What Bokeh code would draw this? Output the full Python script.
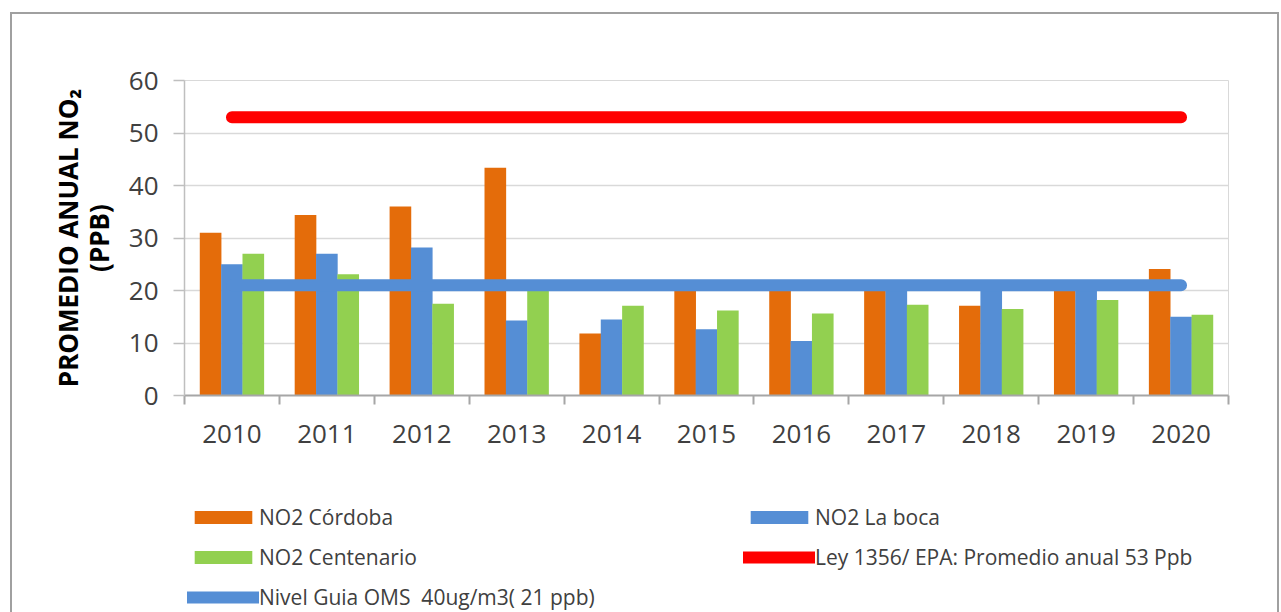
import numpy as np
from bokeh.plotting import figure
from bokeh.layouts import column
from bokeh.models import (Range1d, LinearAxis, FixedTicker, Legend, LegendItem,
                          ColumnDataSource, Grid)
from bokeh.transform import dodge
from bokeh.embed import file_html
from bokeh.resources import INLINE

# ---------------- data ----------------
years = ["2010", "2011", "2012", "2013", "2014", "2015", "2016", "2017", "2018", "2019", "2020"]
no2_cordoba = [31.0, 34.4, 36.0, 43.4, 11.8, 21.0, 21.0, 21.0, 17.1, 21.0, 24.1]
no2_la_boca = [25.0, 27.0, 28.2, 14.3, 14.5, 12.6, 10.4, 21.0, 21.0, 21.0, 15.0]
no2_centenario = [27.0, 23.1, 17.5, 21.0, 17.1, 16.2, 15.6, 17.3, 16.5, 18.2, 15.4]
ley_epa = [53, 53, 53, 53, 53, 53, 53, 53, 53, 53, 53]
nivel_oms = [21, 21, 21, 21, 21, 21, 21, 21, 21, 21, 21]
y_ticks = [0, 10, 20, 30, 40, 50, 60]

labels = ["NO2 Córdoba", "NO2 La boca", "NO2 Centenario",
          "Ley 1356/ EPA: Promedio anual 53 Ppb",
          "Nivel Guia OMS  40ug/m3( 21 ppb)"]

ORANGE = "#E46C0A"
BLUE = "#558ED5"
GREEN = "#92D050"
RED = "#FF0000"
TXT = "#404040"
FONT = "Open Sans"
FRAME_CSS = ("position: absolute; left: 10px; right: 2px; top: {top}px; bottom: 0px; "
             "border: 2px solid #a0a0a0; {extra} pointer-events: none; z-index: 100;")

idx = list(range(len(years)))
src = ColumnDataSource(dict(x=idx, cordoba=no2_cordoba, laboca=no2_la_boca,
                            centenario=no2_centenario, ley=ley_epa, oms=nivel_oms))


def add_series(fig):
    bw = 0.228
    rc = fig.vbar(x=dodge("x", -0.225, range=fig.x_range), top="cordoba", width=bw,
                  source=src, fill_color=ORANGE, line_color=None)
    rb = fig.vbar(x=dodge("x", 0.0, range=fig.x_range), top="laboca", width=bw,
                  source=src, fill_color=BLUE, line_color=None)
    rg = fig.vbar(x=dodge("x", 0.225, range=fig.x_range), top="centenario", width=bw,
                  source=src, fill_color=GREEN, line_color=None)
    ro = fig.line("x", "oms", source=src, line_color=BLUE, line_width=12, line_cap="round")
    rl = fig.line("x", "ley", source=src, line_color=RED, line_width=12, line_cap="round")
    return rc, rb, rg, rl, ro


# ---------------- main chart ----------------
p = figure(width=1281, height=460,
           x_range=Range1d(-0.5, len(years) - 0.5), y_range=Range1d(0, 60),
           x_axis_type=None, y_axis_type=None,
           output_backend="svg", toolbar_location=None,
           min_border_left=184, min_border_right=53,
           min_border_top=80, min_border_bottom=65)
p.background_fill_color = "white"
p.border_fill_color = "white"
p.outline_line_color = "#d9d9d9"
p.outline_line_width = 1
p.stylesheets = [":host::after { content: ''; " +
                 FRAME_CSS.format(top=12, extra="border-bottom: none;") + " }"]

yaxis = LinearAxis(ticker=FixedTicker(ticks=y_ticks, minor_ticks=[]))
yaxis.axis_label = "PROMEDIO ANUAL NO\u2082\n(PPB)"
yaxis.axis_label_text_font = FONT
yaxis.axis_label_text_font_style = "bold"
yaxis.axis_label_text_font_size = "26px"
yaxis.axis_label_text_line_height = 0.86
yaxis.axis_label_text_color = "#000000"
yaxis.axis_label_standoff = 9
yaxis.major_label_text_font = FONT
yaxis.major_label_text_font_size = "26px"
yaxis.major_label_text_color = TXT
yaxis.major_label_standoff = 15
yaxis.major_tick_out = 11
yaxis.major_tick_in = 0
yaxis.minor_tick_out = 0
yaxis.minor_tick_in = 0
yaxis.axis_line_color = "#bfbfbf"
yaxis.major_tick_line_color = "#bfbfbf"
yaxis.axis_line_width = 1.5
yaxis.major_tick_line_width = 1.5
p.add_layout(yaxis, "left")

boundaries = [i - 0.5 for i in range(len(years) + 1)]
xaxis = LinearAxis(ticker=FixedTicker(ticks=idx, minor_ticks=boundaries))
xaxis.major_label_overrides = {i: y for i, y in zip(idx, years)}
xaxis.major_label_text_font = FONT
xaxis.major_label_text_font_size = "26px"
xaxis.major_label_text_color = TXT
xaxis.major_label_standoff = 20
xaxis.major_tick_out = 0
xaxis.major_tick_in = 0
xaxis.minor_tick_out = 9
xaxis.minor_tick_in = 0
xaxis.axis_line_color = "#a6a6a6"
xaxis.minor_tick_line_color = "#a6a6a6"
xaxis.axis_line_width = 2
xaxis.minor_tick_line_width = 2
p.add_layout(xaxis, "below")

grid = Grid(dimension=1, ticker=yaxis.ticker, grid_line_color="#d9d9d9", grid_line_width=1.5)
p.add_layout(grid)

add_series(p)

# ---------------- legend strip (frame aligned with the chart's frame) ----------------
lg = figure(width=1281, height=152,
            x_range=Range1d(-0.5, len(years) - 0.5), y_range=Range1d(100, 101),
            x_axis_type=None, y_axis_type=None,
            output_backend="svg", toolbar_location=None,
            min_border_left=184, min_border_right=53, min_border_top=0, min_border_bottom=0)
lg.outline_line_color = None
lg.background_fill_color = "white"
lg.border_fill_color = "white"
lg.stylesheets = [":host::after { content: ''; " +
                  FRAME_CSS.format(top=0, extra="border-top: none; border-bottom: none;") + " }"]

k_c, k_b, k_g, k_ley, k_oms = add_series(lg)  # series sit outside this strip's y range

legend = Legend(items=[LegendItem(label=labels[0], renderers=[k_c]),
                       LegendItem(label=labels[1], renderers=[k_b]),
                       LegendItem(label=labels[2], renderers=[k_g]),
                       LegendItem(label=labels[3], renderers=[k_ley]),
                       LegendItem(label=labels[4], renderers=[k_oms])],
                location=(3, 0), orientation="horizontal", ncols=2)
legend.glyph_width = 72
legend.glyph_height = 16
legend.label_standoff = 0
legend.label_width = 474
legend.label_height = 30
legend.spacing = 10
legend.padding = 0
legend.margin = 0
legend.border_line_color = None
legend.background_fill_alpha = 0
legend.label_text_font = FONT
legend.label_text_font_size = "21px"
legend.label_text_color = TXT
lg.add_layout(legend)

page = column(p, lg, spacing=0)
open("out.html", "w").write(file_html(page, INLINE))
